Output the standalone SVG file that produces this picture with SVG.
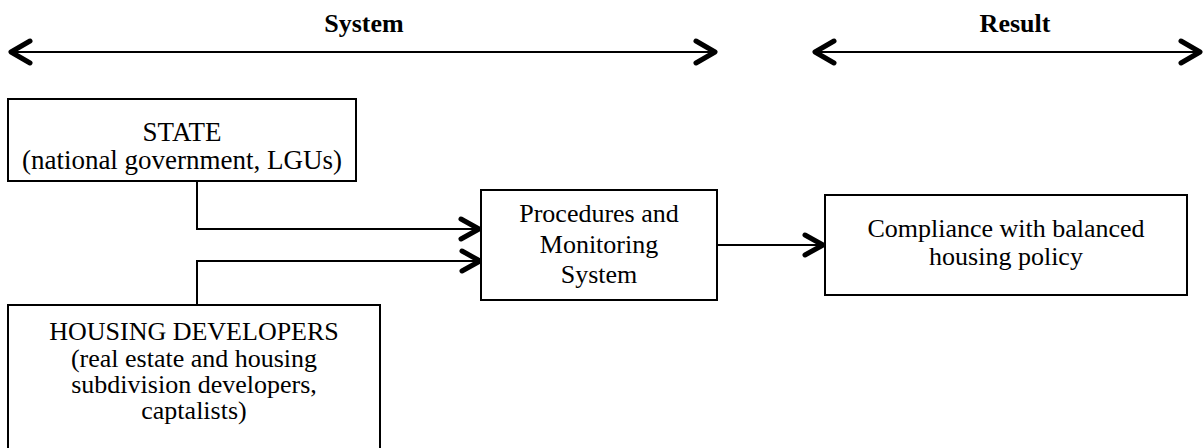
<svg xmlns="http://www.w3.org/2000/svg" width="1203" height="448" viewBox="0 0 1203 448">
<style>
.box{fill:#fff;stroke:#000;stroke-width:2}
.t{font-family:"Liberation Serif","Times New Roman",serif;font-size:26px;fill:#000;text-anchor:middle}
.s{font-size:27px}
.h{font-family:"Liberation Serif","Times New Roman",serif;font-size:26px;font-weight:bold;fill:#000;text-anchor:middle}
.ln{fill:none;stroke:#000;stroke-width:2}
.hd{fill:none;stroke:#000;stroke-width:5;stroke-linecap:round;stroke-linejoin:round}
</style>
<rect width="1203" height="448" fill="#fff"/>
<g id="headers">
<text class="h" x="364" y="32">System</text>
<text class="h" x="1015" y="32">Result</text>
</g>
<g id="scale-arrows">
<line class="ln" x1="12" y1="52" x2="714" y2="52"/>
<polyline class="hd" points="30,41 11,52 30,63"/>
<polyline class="hd" points="696,41 715,52 696,63"/>
<line class="ln" x1="816" y1="52" x2="1199" y2="52"/>
<polyline class="hd" points="834,41 815,52 834,63"/>
<polyline class="hd" points="1181,41 1200,52 1181,63"/>
</g>
<g id="connectors">
<polyline class="ln" points="197,181 197,229 478,229"/>
<polyline class="hd" points="461,219 479,229 461,239"/>
<polyline class="ln" points="197,305 197,261 479,261"/>
<polyline class="hd" points="462,251 480,261 462,271"/>
<line class="ln" x1="717" y1="245" x2="822" y2="245"/>
<polyline class="hd" points="805,235 823,245 805,255"/>
</g>
<g id="state">
<rect class="box" x="8" y="99" width="348" height="82"/>
<text class="t s" x="182" y="141">STATE</text>
<text class="t s" x="182" y="169">(national government, LGUs)</text>
</g>
<g id="housing">
<rect class="box" x="8" y="305" width="372" height="160"/>
<text class="t" x="194" y="340">HOUSING DEVELOPERS</text>
<text class="t" x="194" y="367">(real estate and housing</text>
<text class="t" x="194" y="393">subdivision developers,</text>
<text class="t" x="194" y="419">captalists)</text>
</g>
<g id="procedures">
<rect class="box" x="481" y="190" width="236" height="110"/>
<text class="t" x="599" y="222">Procedures and</text>
<text class="t" x="599" y="253">Monitoring</text>
<text class="t" x="599" y="283">System</text>
</g>
<g id="compliance">
<rect class="box" x="825" y="195" width="362" height="100"/>
<text class="t" x="1006" y="237">Compliance with balanced</text>
<text class="t" x="1006" y="265">housing policy</text>
</g>
</svg>
